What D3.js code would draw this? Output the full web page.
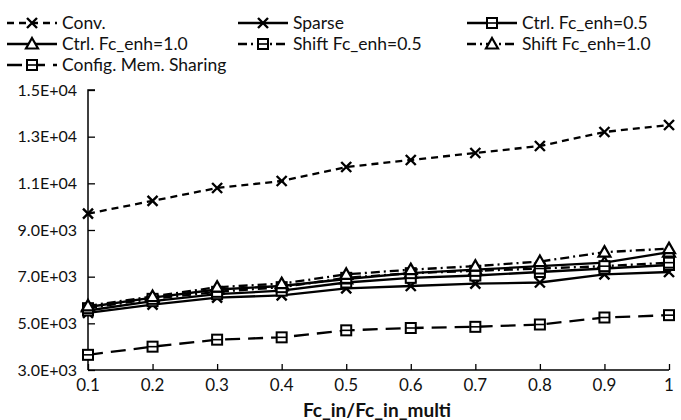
<!DOCTYPE html>
<html>
<head>
<meta charset="utf-8">
<script src="https://cdn.jsdelivr.net/npm/d3@7"></script>
<style>
  html, body { margin: 0; padding: 0; background: #fff; }
  svg { display: block; font-family: Lato, "Open Sans", sans-serif; }
</style>
</head>
<body>
<svg id="chart" width="681" height="420"></svg>
<script>
// Ratio of input fan-in to multi-input fan-in
const xValues = [0.1, 0.2, 0.3, 0.4, 0.5, 0.6, 0.7, 0.8, 0.9, 1.0];

const conv        = [9700, 10250, 10800, 11100, 11700, 12000, 12300, 12600, 13200, 13500];
const sparse      = [5450, 5800, 6100, 6200, 6500, 6600, 6700, 6750, 7100, 7200];
const ctrlEnh05   = [5550, 5950, 6250, 6400, 6750, 6950, 7050, 7200, 7350, 7500];
const ctrlEnh10   = [5700, 6100, 6450, 6600, 6900, 7150, 7300, 7450, 7600, 8050];
const shiftEnh05  = [5650, 6050, 6350, 6550, 6950, 7150, 7250, 7350, 7450, 7600];
const shiftEnh10  = [5750, 6150, 6550, 6700, 7100, 7300, 7450, 7650, 8050, 8200];
const memSharing  = [3650, 4000, 4300, 4400, 4700, 4800, 4850, 4950, 5250, 5350];

const yTicks = [3000, 5000, 7000, 9000, 11000, 13000, 15000];
const xTickLabels = ["0.1", "0.2", "0.3", "0.4", "0.5", "0.6", "0.7", "0.8", "0.9", "1"];

const series = [
  { name: "Conv.",                 values: conv,       dash: "7,5",         marker: "x" },
  { name: "Sparse",                values: sparse,     dash: null,          marker: "x" },
  { name: "Ctrl. Fc_enh=0.5",      values: ctrlEnh05,  dash: null,          marker: "square" },
  { name: "Ctrl. Fc_enh=1.0",      values: ctrlEnh10,  dash: null,          marker: "triangle" },
  { name: "Shift Fc_enh=0.5",      values: shiftEnh05, dash: "9,4,2,4",     marker: "square" },
  { name: "Shift Fc_enh=1.0",      values: shiftEnh10, dash: "9,4,2,4",     marker: "triangle" },
  { name: "Config. Mem. Sharing",  values: memSharing, dash: "15,8",        marker: "square" }
];

const svg = d3.select("#chart");

const x = d3.scaleLinear().domain([0.1, 1.0]).range([88, 669]);
const y = d3.scaleLinear().domain([3000, 15000]).range([370, 90]);

// Axes: ticks drawn on the inner side
const yAxis = d3.axisRight(y).tickValues(yTicks).tickSize(7).tickFormat("");
const gy = svg.append("g").attr("transform", `translate(${x(0.1)},0)`).call(yAxis);
gy.select(".domain").attr("stroke", "#000").attr("stroke-width", 1.5).attr("d", `M7,${y(15000)}H0V${y(3000)}`);
gy.selectAll(".tick line").attr("stroke", "#000").attr("stroke-width", 1.3);

const xAxis = d3.axisTop(x).tickValues(xValues).tickSize(6).tickFormat("");
const gx = svg.append("g").attr("transform", `translate(0,${y(3000)})`).call(xAxis);
gx.select(".domain").attr("stroke", "#000").attr("stroke-width", 1.5).attr("d", `M${x(0.1)},0H${x(1.0)}`);
gx.selectAll(".tick line").attr("stroke", "#000").attr("stroke-width", 1.3);

// Tick labels
svg.append("g").selectAll("text").data(yTicks).join("text")
  .attr("x", 77).attr("y", d => y(d)).attr("dy", "0.35em")
  .attr("text-anchor", "end").attr("font-size", 16).attr("fill", "#111")
  .text(d => d3.format(".1e")(d).replace("e+", "E+0"));

svg.append("g").selectAll("text").data(xValues).join("text")
  .attr("x", d => x(d)).attr("y", 385).attr("dy", "0.35em")
  .attr("text-anchor", "middle").attr("font-size", 17).attr("fill", "#111")
  .text((d, i) => xTickLabels[i]);

svg.append("text").attr("x", 377).attr("y", 410).attr("dy", "0.35em")
  .attr("text-anchor", "middle").attr("font-size", 19).attr("font-weight", "bold")
  .attr("fill", "#111").text("Fc_in/Fc_in_multi");

// Marker shapes
function drawMarker(g, type, cx, cy) {
  if (type === "x") {
    const s = 5;
    g.append("path").attr("d", `M${cx - s},${cy - s}L${cx + s},${cy + s}M${cx - s},${cy + s}L${cx + s},${cy - s}`)
      .attr("stroke", "#000").attr("stroke-width", 2.4).attr("fill", "none");
  } else if (type === "square") {
    const s = 5;
    g.append("rect").attr("x", cx - s).attr("y", cy - s).attr("width", 2 * s).attr("height", 2 * s)
      .attr("fill", "#fff").attr("stroke", "#000").attr("stroke-width", 2);
    g.append("path").attr("d", `M${cx - s},${cy}H${cx + s}`).attr("stroke", "#000").attr("stroke-width", 1.6);
  } else {
    const s = 6;
    g.append("path").attr("d", `M${cx},${cy - s}L${cx + s},${cy + s * 0.75}L${cx - s},${cy + s * 0.75}Z`)
      .attr("fill", "#fff").attr("stroke", "#000").attr("stroke-width", 2.2);
  }
}

const line = d3.line().x(d => x(d[0])).y(d => y(d[1]));

const plot = svg.append("g");
series.forEach(s => {
  const pts = xValues.map((v, i) => [v, s.values[i]]);
  plot.append("path").datum(pts).attr("d", line)
    .attr("fill", "none").attr("stroke", "#000").attr("stroke-width", 2.3)
    .attr("stroke-dasharray", s.dash);
});
series.forEach(s => {
  const g = plot.append("g");
  xValues.forEach((v, i) => drawMarker(g, s.marker, x(v), y(s.values[i])));
});

// Legend: three columns, three rows
const legendCols = [7, 238, 467];
const legendRows = [23, 44, 65];
const legend = svg.append("g");
series.forEach((s, i) => {
  const lx = legendCols[i % 3], ly = legendRows[Math.floor(i / 3)];
  const g = legend.append("g");
  g.append("path").attr("d", `M${lx},${ly}H${lx + 50}`)
    .attr("stroke", "#000").attr("stroke-width", 2.3).attr("stroke-dasharray", s.dash);
  drawMarker(g, s.marker, lx + 25, ly);
  g.append("text").attr("x", lx + 55).attr("y", ly).attr("dy", "0.35em")
    .attr("font-size", 17.5).attr("fill", "#111").text(s.name);
});
</script>
</body>
</html>
